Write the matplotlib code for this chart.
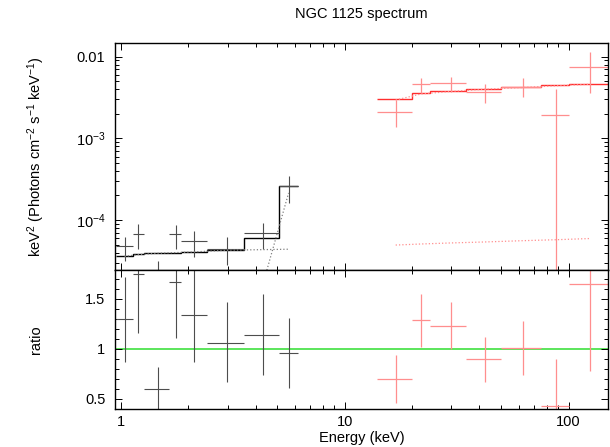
"""NGC 1125 unfolded spectrum with data/model ratio panel."""

import matplotlib

matplotlib.use("Agg")
import matplotlib.pyplot as plt
import numpy as np
from matplotlib.ticker import FixedLocator, FuncFormatter, LogLocator, MultipleLocator, NullFormatter

plt.rcParams["font.family"] = ["Liberation Sans", "DejaVu Sans"]
plt.rcParams["mathtext.fontset"] = "custom"
plt.rcParams["mathtext.rm"] = "Liberation Sans"
plt.rcParams["mathtext.it"] = "Liberation Sans:italic"
plt.rcParams["mathtext.bf"] = "Liberation Sans:bold"

# soft band (black)
soft_edges = [0.95, 1.13, 1.27, 1.65, 1.86, 2.42, 3.57, 5.09, 6.16]
soft_e = [1.04, 1.20, 1.46, 1.76, 2.13, 2.99, 4.33, 5.62]
soft_flux = [4.76e-5, 6.68e-5, 2.38e-5, 6.68e-5, 5.48e-5, 4.41e-5, 6.87e-5, 2.63e-4]
soft_flux_hi = [6.25e-5, 8.86e-5, 3.2e-5, 8.8e-5, 7.33e-5, 6.25e-5, 9.27e-5, 3.46e-4]
soft_flux_lo = [3.18e-5, 4.38e-5, 1.0e-5, 4.38e-5, 3.56e-5, 2.81e-5, 4.38e-5, 1.63e-4]
soft_model = [3.62e-5, 3.80e-5, 3.95e-5, 4.0e-5, 4.09e-5, 4.3e-5, 5.97e-5, 2.63e-4]
soft_comp_pl = [3.6e-5, 3.78e-5, 3.93e-5, 4.0e-5, 4.08e-5, 4.28e-5, 4.35e-5, 4.4e-5]
soft_comp_line = [np.nan, np.nan, np.nan, np.nan, np.nan, np.nan, 1.7e-5, 2.15e-4]
soft_ratio = [1.296, 1.75, 0.602, 1.667, 1.34, 1.06, 1.14, 0.96]
soft_ratio_hi = [1.723, 2.33, 0.818, 2.2, 1.80, 1.465, 1.55, 1.306]
soft_ratio_lo = [0.869, 1.16, 0.25, 1.11, 0.869, 0.663, 0.74, 0.612]

# hard band (red)
hard_edges = [14, 20, 24, 35, 50, 75, 100, 150]
hard_e = [16.9, 22.0, 29.7, 42.4, 62.9, 87.8, 125]
hard_flux = [2.12e-3, 4.59e-3, 4.72e-3, 3.66e-3, 4.3e-3, 1.92e-3, 7.55e-3]
hard_flux_hi = [2.95e-3, 5.53e-3, 5.69e-3, 4.59e-3, 5.44e-3, 3.98e-3, 1.15e-2]
hard_flux_lo = [1.37e-3, 3.56e-3, 3.73e-3, 2.74e-3, 3.18e-3, 1e-6, 3.56e-3]
hard_model = [3.01e-3, 3.56e-3, 3.80e-3, 4.07e-3, 4.26e-3, 4.46e-3, 4.68e-3]
hard_comp_main = [2.95e-3, 3.5e-3, 3.75e-3, 4.0e-3, 4.2e-3, 4.4e-3, 4.6e-3]
hard_comp_low = [4.95e-5, 5.1e-5, 5.25e-5, 5.4e-5, 5.6e-5, 5.75e-5, 5.95e-5]
hard_ratio = [0.70, 1.286, 1.232, 0.899, 1.01, 0.43, 1.65]
hard_ratio_hi = [0.942, 1.548, 1.47, 1.12, 1.28, 0.899, 2.46]
hard_ratio_lo = [0.454, 1.02, 1.0, 0.667, 0.74, 0.0, 0.78]

BLACK_ERR = "0.3"
RED_ERR = "#ff8e8e"
RED_MODEL = "#ff2e2e"
GREEN = "#3fe03f"


def _xerr(centers, edges):
    c = np.asarray(centers)
    e = np.asarray(edges)
    return [c - e[:-1], e[1:] - c]


def _yerr(vals, lo, hi):
    v = np.asarray(vals)
    return [v - np.asarray(lo), np.asarray(hi) - v]


fig = plt.figure(figsize=(6.10, 4.47), dpi=100)
left, right = 115 / 610, 608 / 610
top_y0, top_y1 = 1 - 270 / 447, 1 - 43 / 447
bot_y0 = 1 - 409 / 447
ax = fig.add_axes([left, top_y0, right - left, top_y1 - top_y0])
axr = fig.add_axes([left, bot_y0, right - left, top_y0 - bot_y0], sharex=ax)

# top panel: unfolded spectrum
ax.errorbar(soft_e, soft_flux, xerr=_xerr(soft_e, soft_edges),
            yerr=_yerr(soft_flux, soft_flux_lo, soft_flux_hi),
            fmt="none", ecolor=BLACK_ERR, elinewidth=0.8, capsize=0)
ax.stairs(soft_model, soft_edges, color="black", lw=1.0, baseline=None)
ax.plot(soft_e, soft_comp_pl, ls=":", color="0.5", lw=0.9)
ax.plot(soft_e, soft_comp_line, ls=":", color="0.5", lw=0.9)

ax.errorbar(hard_e, hard_flux, xerr=_xerr(hard_e, hard_edges),
            yerr=_yerr(hard_flux, hard_flux_lo, hard_flux_hi),
            fmt="none", ecolor=RED_ERR, elinewidth=0.9, capsize=0)
ax.stairs(hard_model, hard_edges, color=RED_MODEL, lw=1.0, baseline=None)
ax.plot(hard_e, hard_comp_main, ls=":", color=RED_ERR, lw=0.9)
ax.plot(hard_e, hard_comp_low, ls=":", color=RED_ERR, lw=0.9)

ax.set_xscale("log")
ax.set_yscale("log")
ax.set_xlim(0.943, 150)
ax.set_ylim(2.45e-5, 0.0147)
ax.yaxis.set_major_locator(FixedLocator([1e-4, 1e-3, 1e-2]))
ax.yaxis.set_minor_locator(LogLocator(base=10, subs=np.arange(2, 10)))
ylabels = {1e-4: r"$10^{-4}$", 1e-3: r"$10^{-3}$", 1e-2: "0.01"}
ax.yaxis.set_major_formatter(FuncFormatter(lambda v, p: ylabels.get(v, "")))
ax.yaxis.set_minor_formatter(NullFormatter())
ax.tick_params(axis="x", which="both", labelbottom=False)
ax.set_ylabel(r"keV$^2$ (Photons cm$^{-2}$ s$^{-1}$ keV$^{-1}$)", fontsize=10.5, va="center")
ax.yaxis.set_label_coords(-0.160, 0.5)

# bottom panel: ratio
axr.axhline(1.0, color=GREEN, lw=1.2, zorder=1)
axr.errorbar(soft_e, soft_ratio, xerr=_xerr(soft_e, soft_edges),
             yerr=_yerr(soft_ratio, soft_ratio_lo, soft_ratio_hi),
             fmt="none", ecolor=BLACK_ERR, elinewidth=0.8, capsize=0)
axr.errorbar(hard_e, hard_ratio, xerr=_xerr(hard_e, hard_edges),
             yerr=_yerr(hard_ratio, hard_ratio_lo, hard_ratio_hi),
             fmt="none", ecolor=RED_ERR, elinewidth=0.9, capsize=0)
axr.set_ylim(0.397, 1.79)
axr.yaxis.set_major_locator(FixedLocator([0.5, 1.0, 1.5]))
axr.yaxis.set_major_formatter(FuncFormatter(lambda v, p: f"{v:g}"))
axr.yaxis.set_minor_locator(MultipleLocator(0.1))
axr.xaxis.set_major_locator(FixedLocator([1, 10, 100]))
axr.xaxis.set_minor_locator(LogLocator(base=10, subs=np.arange(2, 10)))
axr.xaxis.set_major_formatter(FuncFormatter(lambda v, p: f"{v:g}"))
axr.xaxis.set_minor_formatter(NullFormatter())
axr.set_xlabel("Energy (keV)", fontsize=10.5, labelpad=2)
axr.set_ylabel("ratio", fontsize=10.5, va="center")
axr.yaxis.set_label_coords(-0.160, 0.5)

for a in (ax, axr):
    for sp in a.spines.values():
        sp.set_linewidth(1.0)
    a.tick_params(which="both", direction="in", top=True, right=True,
                  labelsize=10.5, width=0.7)
    a.tick_params(which="major", length=5)
    a.tick_params(which="minor", length=2.6)
    a.tick_params(axis="y", which="both", pad=7)
    a.tick_params(axis="x", which="both", pad=4)

fig.text((left + right) / 2, 1 - 14 / 447, "NGC 1125 spectrum",
         ha="center", va="center", fontsize=10.5)

fig.savefig("out.png", dpi=100)
plt.close(fig)
